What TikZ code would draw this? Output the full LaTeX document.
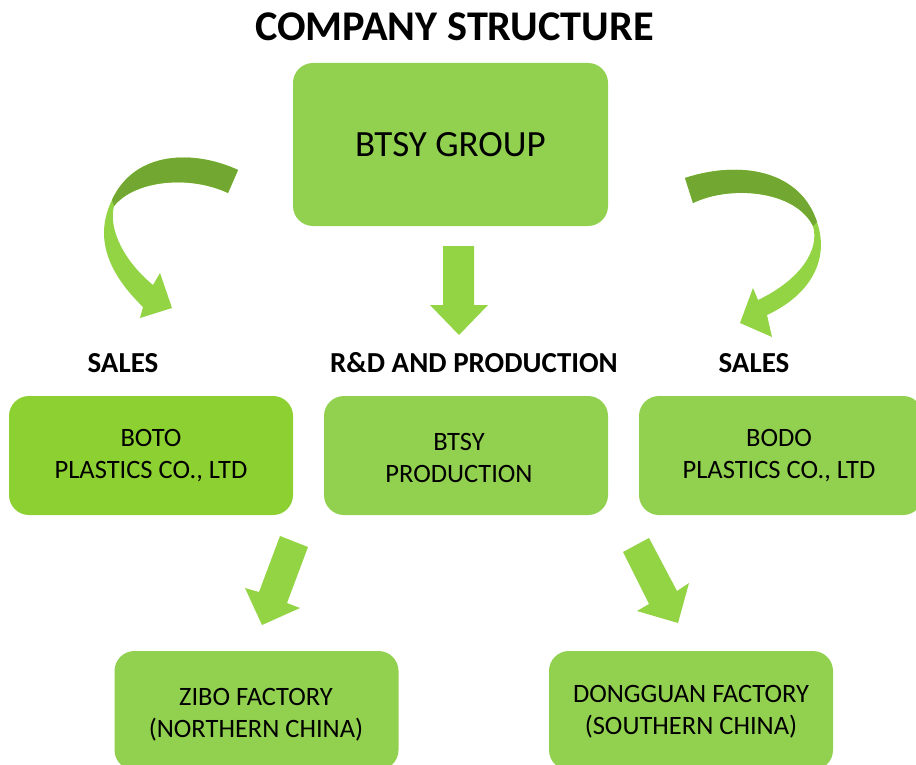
\documentclass[tikz,border=0pt]{standalone}
\usepackage{fontspec}
\setmainfont{Carlito}
\definecolor{boxg}{HTML}{92D050}
\definecolor{boxg2}{HTML}{8CD032}
\definecolor{arrg}{HTML}{92D444}
\definecolor{darkg}{HTML}{72A832}
\tikzset{
  orgbox/.style={rectangle, rounded corners=20pt, fill=boxg, draw=none, minimum width=284pt, minimum height=119pt, align=center, font=\fontsize{26.5}{32}\selectfont, inner sep=0pt},
  boxtext/.style={align=center, font=\fontsize{26.5}{32}\selectfont, inner sep=0pt},
  heading/.style={font=\bfseries\fontsize{29}{32}\selectfont, inner sep=0pt},
  arrowfill/.style={fill=arrg, draw=none},
  bandfill/.style={fill=darkg, draw=none}
}
\begin{document}
\begin{tikzpicture}[x=1pt,y=-1pt]
\useasboundingbox (0,0) rectangle (916,765);
\fill[white] (0,0) rectangle (916,765);
% title
\node[font=\bfseries\fontsize{42.3}{46}\selectfont, inner sep=0pt] (title) at (454.5,27) {COMPANY STRUCTURE};
% top box
\node[orgbox, minimum width=315pt, minimum height=163pt, font=\fontsize{37}{40}\selectfont] (group) at (450.5,144.5) {BTSY GROUP};
% headings
\node[heading] (sales1) at (123,363) {SALES};
\node[heading] (rd) at (474,363) {R\&D AND PRODUCTION};
\node[heading] (sales2) at (754,363) {SALES};
% second row
\node[orgbox, fill=boxg2] (boto) at (151,455.5) {BOTO\\PLASTICS CO., LTD};
\node[orgbox] (prod) at (466,455.5) {};
\node[boxtext] (prodtext) at (459,457.5) {BTSY\\PRODUCTION};
\node[orgbox] (bodo) at (781,455.5) {};
\node[boxtext] (bodotext) at (779,455.5) {BODO\\PLASTICS CO., LTD};
% third row
\node[orgbox] (zibo) at (256.5,710.5) {};
\node[boxtext] (zibotext) at (256,714.5) {ZIBO FACTORY\\(NORTHERN CHINA)};
\node[orgbox] (dong) at (691,710.5) {};
\node[boxtext] (dongtext) at (691,711.5) {DONGGUAN FACTORY\\(SOUTHERN CHINA)};
% down arrow
\path[arrowfill] (443,246) -- (474,246) -- (474,305) -- (488,305) -- (459,335) -- (430,305) -- (443,305) -- cycle;
% left small arrow
\path[arrowfill] (280,536) -- (308,547) -- (287,603) -- (300,608) -- (262,625) -- (245,588) -- (259,592) -- cycle;
% right small arrow
\path[arrowfill] (623,552) -- (649,538) -- (677,591) -- (689,583) -- (678,623) -- (637,611) -- (649,604) -- cycle;
% left curved arrow
\path[arrowfill] (238,170) .. controls (195,150) and (135,150) .. (112,200)
  .. controls (95,235) and (105,270) .. (143,307) -- (140,318) -- (172,308) -- (160,273) -- (153,285)
  .. controls (125,262) and (108,230) .. (114,206)
  .. controls (135,180) and (190,175) .. (228,193) -- cycle;
\path[bandfill] (238,170) .. controls (195,150) and (135,150) .. (112,200) -- (114,206)
  .. controls (135,180) and (190,175) .. (228,193) -- cycle;
% right curved arrow
\path[arrowfill] (685,178) .. controls (740,160) and (800,170) .. (817,222)
  .. controls (830,260) and (810,295) .. (767,315) -- (772,337) -- (740,323) -- (753,288) -- (758,300)
  .. controls (800,280) and (820,250) .. (813,226)
  .. controls (795,190) and (730,185) .. (693,203) -- cycle;
\path[bandfill] (685,178) .. controls (740,160) and (800,170) .. (817,222) -- (813,226)
  .. controls (795,190) and (730,185) .. (693,203) -- cycle;
\end{tikzpicture}
\end{document}
